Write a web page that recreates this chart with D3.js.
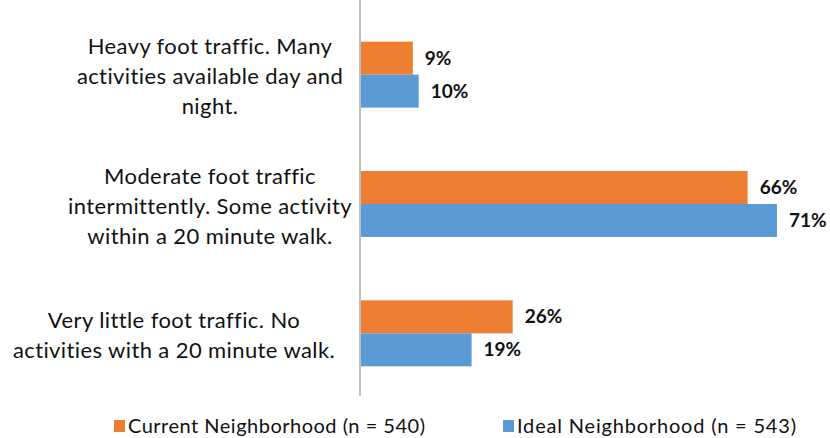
<!DOCTYPE html>
<html lang="en">
<head>
    <meta charset="UTF-8">
    <title>Foot traffic</title>
    <script src="https://cdn.jsdelivr.net/npm/d3@7"></script>
    <style>
        body { margin: 0; background: #fff; }
        svg { font-family: Lato, "Open Sans", sans-serif; }
        .cat { font-size: 22px; fill: #111; letter-spacing: 0.4px; }
        .val { font-size: 19px; font-weight: bold; fill: #111; }
        .leg { font-size: 20px; fill: #111; }
    </style>
</head>
<body>
    <svg width="830" height="438"></svg>

    <script>
        // data
        var categories = ["heavy", "moderate", "little"];
        var catLines = [
            ["Heavy foot traffic. Many", "activities available day and", "night."],
            ["Moderate foot traffic", "intermittently. Some activity", "within a 20 minute walk."],
            ["Very little foot traffic. No", "activities with a 20 minute walk."]
        ];
        var catCenter = [210, 210, 174];
        var seriesNames = ["Current Neighborhood (n = 540)", "Ideal Neighborhood (n = 543)"];
        var current = [9, 66, 26];
        var ideal = [10, 71, 19];
        var colors = ["#ED7D31", "#5B9BD5"];

        var svg = d3.select("svg");
        var x0 = 360;

        var x = d3.scaleLinear().domain([0, 71]).range([x0, 777]);
        var y = d3.scaleBand().domain(categories).range([10, 398]).paddingInner(0.49).paddingOuter(0.245);
        var ySub = d3.scaleBand().domain([0, 1]).range([0, y.bandwidth()]);

        var rows = categories.map(function(c, i) {
            return { cat: c, vals: [current[i], ideal[i]], lines: catLines[i], cx: catCenter[i] };
        });

        var g = svg.selectAll("g.row").data(rows).enter().append("g")
            .attr("class", "row")
            .attr("transform", d => "translate(0," + y(d.cat) + ")");

        g.selectAll("rect").data(d => d.vals).enter().append("rect")
            .attr("x", x0)
            .attr("y", (d, i) => ySub(i))
            .attr("width", d => x(d) - x0)
            .attr("height", ySub.bandwidth())
            .attr("fill", (d, i) => colors[i]);

        g.selectAll("text.val").data(d => d.vals).enter().append("text")
            .attr("class", "val")
            .attr("x", d => x(d) + 12)
            .attr("y", (d, i) => ySub(i) + ySub.bandwidth() / 2)
            .attr("dy", "0.35em")
            .text(d => d + "%");

        g.each(function(d) {
            var n = d.lines.length;
            var lh = 30;
            var top = y.bandwidth() / 2 + 2 - (n - 1) * lh / 2;
            d3.select(this).selectAll("text.cat").data(d.lines).enter().append("text")
                .attr("class", "cat")
                .attr("x", d.cx)
                .attr("y", (t, i) => top + i * lh)
                .attr("dy", "0.35em")
                .attr("text-anchor", "middle")
                .text(t => t);
        });

        // axis line
        svg.append("line")
            .attr("x1", x0).attr("x2", x0)
            .attr("y1", 0).attr("y2", 396)
            .attr("stroke", "#BFBFBF").attr("stroke-width", 2);

        // legend
        var legX = [114, 503];
        var legW = [297, 279];
        var leg = svg.selectAll("g.leg").data(seriesNames).enter().append("g")
            .attr("transform", (d, i) => "translate(" + legX[i] + ",420)");
        leg.append("rect").attr("width", 11).attr("height", 12)
            .attr("fill", (d, i) => colors[i]);
        leg.append("text").attr("class", "leg")
            .attr("x", 14).attr("y", 6).attr("dy", "0.35em")
            .attr("textLength", (d, i) => legW[i])
            .attr("lengthAdjust", "spacing")
            .text(d => d);
    </script>
</body>
</html>
